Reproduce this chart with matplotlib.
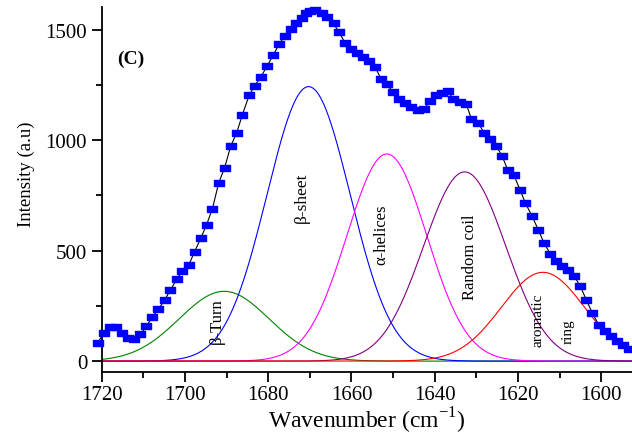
import numpy as np
import matplotlib
matplotlib.use('Agg')
import matplotlib.pyplot as plt
from matplotlib.ticker import MultipleLocator

plt.rcParams['font.family'] = ['Liberation Serif', 'DejaVu Serif']
plt.rcParams['mathtext.fontset'] = 'custom'
plt.rcParams['mathtext.rm'] = 'Liberation Serif'

# measured spectrum (blue squares)
wavenumber = [1721.0, 1719.5, 1718.0, 1716.5, 1715.1, 1713.6, 1712.2, 1710.7, 1709.3, 1707.9,
              1706.4, 1704.9, 1703.5, 1702.0, 1700.6, 1699.1, 1697.7, 1696.2, 1694.8, 1693.4,
              1691.9, 1690.5, 1689.0, 1687.6, 1686.2, 1684.6, 1683.3, 1681.8, 1680.3, 1678.8,
              1677.4, 1676.0, 1674.6, 1673.3, 1672.0, 1671.0, 1670.0, 1668.7, 1667.2, 1665.8,
              1664.3, 1663.0, 1661.5, 1660.0, 1658.7, 1657.2, 1655.7, 1654.3, 1652.9, 1651.5,
              1650.0, 1648.5, 1647.1, 1645.6, 1644.1, 1642.6, 1641.1, 1639.6, 1638.2, 1636.8,
              1635.5, 1634.0, 1632.4, 1631.2, 1629.6, 1628.1, 1626.7, 1625.2, 1623.8, 1622.4,
              1621.0, 1619.5, 1618.2, 1616.6, 1615.1, 1613.7, 1612.2, 1610.8, 1609.4, 1607.9,
              1606.5, 1605.0, 1603.6, 1602.1, 1600.6, 1599.2, 1597.7, 1596.3, 1594.8, 1593.4]
intensity = [82, 127, 154, 154, 128, 104, 100, 121, 157, 198,
             235, 276, 322, 370, 409, 435, 495, 557, 618, 691,
             807, 875, 974, 1033, 1116, 1203, 1245, 1286, 1335, 1386,
             1435, 1474, 1505, 1532, 1556, 1577, 1584, 1588, 1575, 1558,
             1529, 1489, 1440, 1414, 1396, 1378, 1357, 1332, 1277, 1254,
             1218, 1187, 1167, 1150, 1138, 1142, 1178, 1203, 1214, 1222,
             1185, 1172, 1163, 1097, 1080, 1033, 1006, 974, 928, 864,
             844, 775, 715, 656, 594, 533, 485, 455, 432, 412,
             385, 339, 278, 217, 164, 138, 114, 93, 73, 53]

# fitted gaussian bands
band_centers = [1690.6, 1670.3, 1651.5, 1632.8, 1614.0]
band_heights = [316, 1243, 938, 857, 402]
band_sigmas = [10.8, 10.0, 9.6, 9.9, 10.0]
band_colors = ['#008000', '#0000ff', '#ff00ff', '#800080', '#ff0000']

fig = plt.figure(figsize=(6.32, 4.39), dpi=100)
ax = fig.add_axes([0.161, 0.150, 0.839, 0.832])

xs = np.linspace(1720, 1592, 600)
for c, h, s, col in zip(band_centers, band_heights, band_sigmas, band_colors):
    ax.plot(xs, h * np.exp(-(xs - c) ** 2 / (2 * s ** 2)), color=col, lw=0.8)

ax.plot(wavenumber, intensity, color='black', lw=0.8, clip_on=False, zorder=3)
rect = [(-1, -0.68), (1, -0.68), (1, 0.68), (-1, 0.68), (-1, -0.68)]
ax.plot(wavenumber, intensity, ls='none', marker=rect, ms=7.3, color='#0000ff',
        mec='#0000ff', clip_on=False, zorder=4)

# band labels
ax.text(1692.4, 185, 'β-Turn', rotation=90, ha='center', va='center', fontsize=12)
ax.text(1671.8, 743, 'β-sheet', rotation=90, ha='center', va='center', fontsize=12.5)
ax.text(1652.8, 575, 'α-helices', rotation=90, ha='center', va='center', fontsize=12)
ax.text(1631.6, 474, 'Random coil', rotation=90, ha='center', va='center', fontsize=12)
ax.text(1615.2, 190, 'aromatic', rotation=90, ha='center', va='center', fontsize=11)
ax.text(1607.9, 140, 'ring', rotation=90, ha='center', va='center', fontsize=11)
ax.text(1716.2, 1370, '(C)', ha='left', va='center', fontsize=14, fontweight='bold')

ax.set_xlim(1720, 1592.6)
ax.set_ylim(-50, 1604)
ax.xaxis.set_major_locator(MultipleLocator(20))
ax.xaxis.set_minor_locator(MultipleLocator(10))
ax.yaxis.set_major_locator(MultipleLocator(500))
ax.yaxis.set_minor_locator(MultipleLocator(250))
ax.tick_params(which='both', direction='out', width=1.3, labelsize=15)
ax.tick_params(which='major', length=7)
ax.tick_params(which='minor', length=4)
ax.tick_params(axis='x', pad=2)

ax.spines['top'].set_visible(False)
ax.spines['right'].set_visible(False)
ax.spines['left'].set_linewidth(1.3)
ax.spines['bottom'].set_linewidth(1.3)

ax.set_xlabel('Wavenumber (cm$^{\\mathregular{-1}}$)', fontsize=17, labelpad=1)
ax.set_ylabel('Intensity (a.u)', fontsize=13.5)
ax.yaxis.set_label_coords(-0.126, 0.545)

plt.savefig('out.png', dpi=100)
